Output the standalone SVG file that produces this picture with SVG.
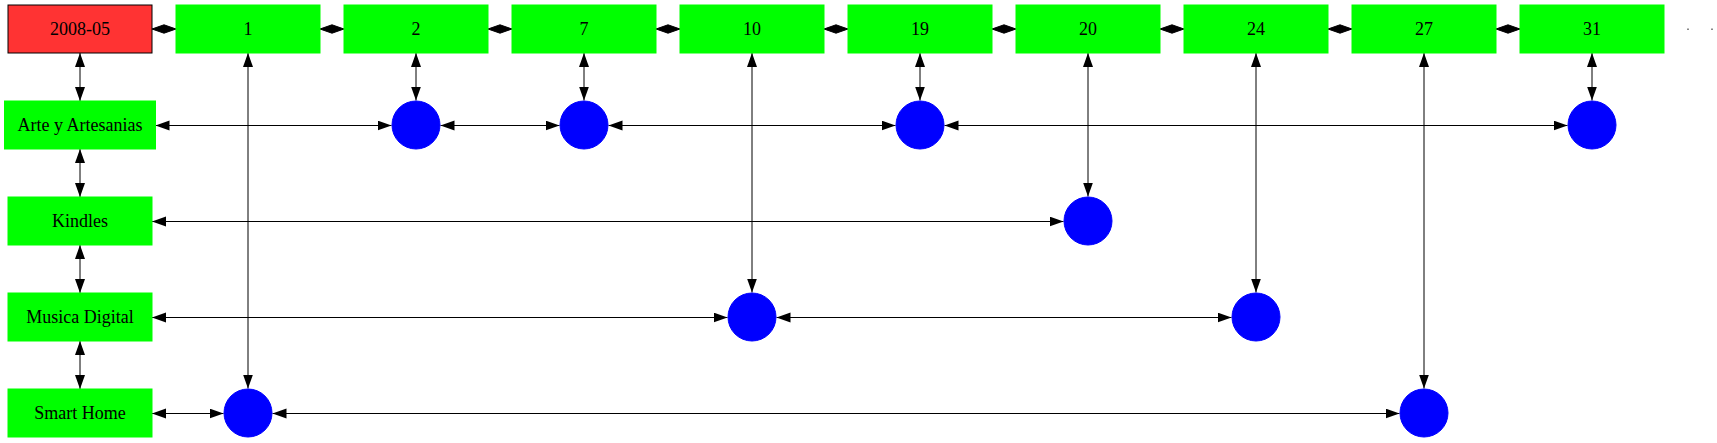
<svg xmlns="http://www.w3.org/2000/svg" width="1717" height="443" viewBox="0 0 1717 443">
<style>
.lbl{font-family:"Liberation Serif","Times New Roman",serif;font-size:18px;text-anchor:middle;fill:#000}
.box{fill:#00ff00;stroke:#00ff00;stroke-width:1}
.red{fill:#ff3333;stroke:#000;stroke-width:1}
.dot{fill:#0000ff;stroke:#0000ff;stroke-width:1}
.edge{stroke:#000;stroke-width:1;fill:none;marker-start:url(#ah);marker-end:url(#ah)}
.dia{fill:#000;stroke:#000;stroke-width:1}
</style>
<defs>
<marker id="ah" markerUnits="userSpaceOnUse" markerWidth="15" markerHeight="11" refX="14" refY="5" orient="auto-start-reverse" viewBox="0 0 15 11">
<path d="M0,0 L14,5 L0,10 z" fill="#000"/>
</marker>
</defs>
<rect width="1717" height="443" fill="#fff"/>
<g id="connectors">
<path class="dia" d="M152,29 L164,24.8 L176,29 L164,33.2 z"/>
<path class="dia" d="M320,29 L332,24.8 L344,29 L332,33.2 z"/>
<path class="dia" d="M488,29 L500,24.8 L512,29 L500,33.2 z"/>
<path class="dia" d="M656,29 L668,24.8 L680,29 L668,33.2 z"/>
<path class="dia" d="M824,29 L836,24.8 L848,29 L836,33.2 z"/>
<path class="dia" d="M992,29 L1004,24.8 L1016,29 L1004,33.2 z"/>
<path class="dia" d="M1160,29 L1172,24.8 L1184,29 L1172,33.2 z"/>
<path class="dia" d="M1328,29 L1340,24.8 L1352,29 L1340,33.2 z"/>
<path class="dia" d="M1496,29 L1508,24.8 L1520,29 L1508,33.2 z"/>
<rect x="1687" y="28.5" width="2" height="1.5" fill="#888"/>
<rect x="1711" y="28.5" width="2" height="1.5" fill="#888"/>
<line class="edge" x1="80" y1="53" x2="80" y2="101"/>
<line class="edge" x1="80" y1="149" x2="80" y2="197"/>
<line class="edge" x1="80" y1="245" x2="80" y2="293"/>
<line class="edge" x1="80" y1="341" x2="80" y2="389"/>
<line class="edge" x1="248" y1="53" x2="248" y2="388.5"/>
<line class="edge" x1="416" y1="53" x2="416" y2="100.5"/>
<line class="edge" x1="584" y1="53" x2="584" y2="100.5"/>
<line class="edge" x1="752" y1="53" x2="752" y2="292.5"/>
<line class="edge" x1="920" y1="53" x2="920" y2="100.5"/>
<line class="edge" x1="1088" y1="53" x2="1088" y2="196.5"/>
<line class="edge" x1="1256" y1="53" x2="1256" y2="292.5"/>
<line class="edge" x1="1424" y1="53" x2="1424" y2="388.5"/>
<line class="edge" x1="1592" y1="53" x2="1592" y2="100.5"/>
<line class="edge" x1="155.5" y1="125.5" x2="391.5" y2="125.5"/>
<line class="edge" x1="440.5" y1="125.5" x2="559.5" y2="125.5"/>
<line class="edge" x1="608.5" y1="125.5" x2="895.5" y2="125.5"/>
<line class="edge" x1="944.5" y1="125.5" x2="1567.5" y2="125.5"/>
<line class="edge" x1="152" y1="221.5" x2="1063.5" y2="221.5"/>
<line class="edge" x1="152" y1="317.5" x2="727.5" y2="317.5"/>
<line class="edge" x1="776.5" y1="317.5" x2="1231.5" y2="317.5"/>
<line class="edge" x1="152" y1="413.5" x2="223.5" y2="413.5"/>
<line class="edge" x1="272.5" y1="413.5" x2="1399.5" y2="413.5"/>
</g>
<g id="n-2008-05"><rect class="red" x="8" y="5" width="144" height="48"/><text class="lbl" x="80" y="35">2008-05</text></g>
<g id="n-1"><rect class="box" x="176" y="5" width="144" height="48"/><text class="lbl" x="248" y="35">1</text></g>
<g id="n-2"><rect class="box" x="344" y="5" width="144" height="48"/><text class="lbl" x="416" y="35">2</text></g>
<g id="n-7"><rect class="box" x="512" y="5" width="144" height="48"/><text class="lbl" x="584" y="35">7</text></g>
<g id="n-10"><rect class="box" x="680" y="5" width="144" height="48"/><text class="lbl" x="752" y="35">10</text></g>
<g id="n-19"><rect class="box" x="848" y="5" width="144" height="48"/><text class="lbl" x="920" y="35">19</text></g>
<g id="n-20"><rect class="box" x="1016" y="5" width="144" height="48"/><text class="lbl" x="1088" y="35">20</text></g>
<g id="n-24"><rect class="box" x="1184" y="5" width="144" height="48"/><text class="lbl" x="1256" y="35">24</text></g>
<g id="n-27"><rect class="box" x="1352" y="5" width="144" height="48"/><text class="lbl" x="1424" y="35">27</text></g>
<g id="n-31"><rect class="box" x="1520" y="5" width="144" height="48"/><text class="lbl" x="1592" y="35">31</text></g>
<g id="n-arte"><rect class="box" x="4.5" y="101" width="151" height="48"/><text class="lbl" x="80" y="131">Arte y Artesanias</text></g>
<g id="n-kindles"><rect class="box" x="8" y="197" width="144" height="48"/><text class="lbl" x="80" y="227">Kindles</text></g>
<g id="n-musica"><rect class="box" x="8" y="293" width="144" height="48"/><text class="lbl" x="80" y="323">Musica Digital</text></g>
<g id="n-smart"><rect class="box" x="8" y="389" width="144" height="48"/><text class="lbl" x="80" y="419">Smart Home</text></g>
<g id="c-arte-2"><circle class="dot" cx="416" cy="125" r="24"/></g>
<g id="c-arte-7"><circle class="dot" cx="584" cy="125" r="24"/></g>
<g id="c-arte-19"><circle class="dot" cx="920" cy="125" r="24"/></g>
<g id="c-arte-31"><circle class="dot" cx="1592" cy="125" r="24"/></g>
<g id="c-kindles-20"><circle class="dot" cx="1088" cy="221" r="24"/></g>
<g id="c-musica-10"><circle class="dot" cx="752" cy="317" r="24"/></g>
<g id="c-musica-24"><circle class="dot" cx="1256" cy="317" r="24"/></g>
<g id="c-smart-1"><circle class="dot" cx="248" cy="413" r="24"/></g>
<g id="c-smart-27"><circle class="dot" cx="1424" cy="413" r="24"/></g>
</svg>
